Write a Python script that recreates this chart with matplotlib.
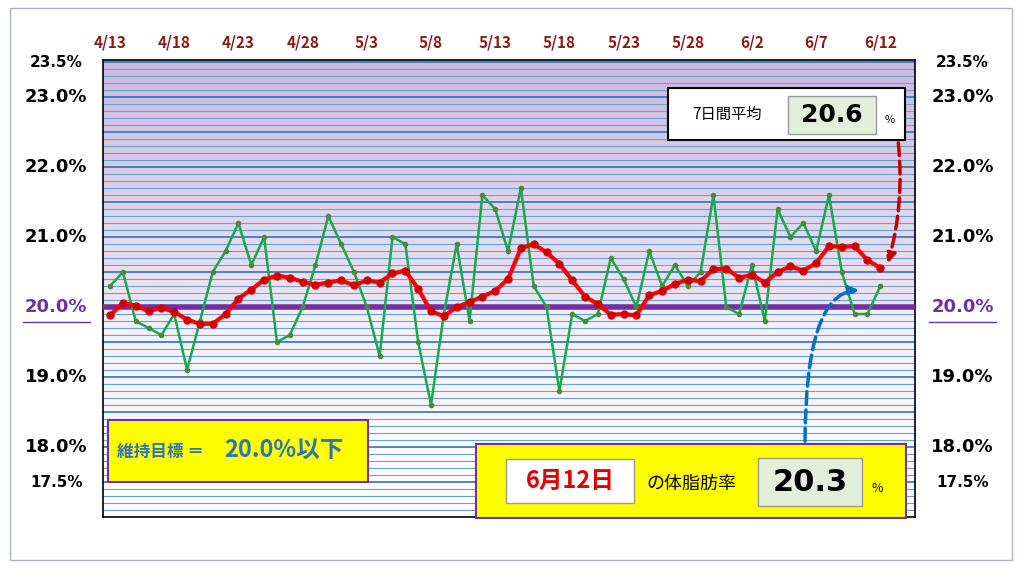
import numpy as np
import matplotlib.pyplot as plt
from matplotlib.patches import Rectangle, FancyArrowPatch
from matplotlib.colors import LinearSegmentedColormap

plt.rcParams['font.family'] = ['Noto Sans CJK JP', 'DejaVu Sans']

# data: 4/13 .. 6/12
daily = [20.3, 20.5, 19.8, 19.7, 19.6, 19.9, 19.1, 19.8, 20.5, 20.8,
         21.2, 20.6, 21.0, 19.5, 19.6, 20.0, 20.6, 21.3, 20.9, 20.5,
         20.0, 19.3, 21.0, 20.9, 19.5, 18.6, 19.9, 20.9, 19.8, 21.6,
         21.4, 20.8, 21.7, 20.3, 20.0, 18.8, 19.9, 19.8, 19.9, 20.7,
         20.4, 20.0, 20.8, 20.3, 20.6, 20.3, 20.5, 21.6, 20.0, 19.9,
         20.6, 19.8, 21.4, 21.0, 21.2, 20.8, 21.6, 20.5, 19.9, 19.9, 20.3]
avg7 = [19.88, 20.06, 20.02, 19.94, 19.99, 19.93, 19.82, 19.76, 19.76, 19.90,
        20.12, 20.25, 20.39, 20.45, 20.42, 20.36, 20.32, 20.35, 20.38, 20.31,
        20.38, 20.35, 20.48, 20.52, 20.26, 19.94, 19.87, 20.00, 20.07, 20.15,
        20.23, 20.40, 20.84, 20.90, 20.78, 20.62, 20.38, 20.15, 20.04, 19.89,
        19.90, 19.88, 20.17, 20.23, 20.33, 20.39, 20.37, 20.54, 20.55, 20.42,
        20.46, 20.35, 20.50, 20.58, 20.52, 20.63, 20.87, 20.86, 20.87, 20.67, 20.56]
date_labels = ['4/13', '4/18', '4/23', '4/28', '5/3', '5/8', '5/13', '5/18',
               '5/23', '5/28', '6/2', '6/7', '6/12']
ytick_vals = [23.5, 23.0, 22.0, 21.0, 20.0, 19.0, 18.0, 17.5]
target = 20.0

days = np.arange(len(daily))
y0, y1 = 17.0, 23.53

fig = plt.figure(figsize=(10.24, 5.69), dpi=100)
fig.patch.set_facecolor('white')
W, H = 1024, 569
ax = fig.add_axes([103 / W, 1 - 517 / H, (915 - 103) / W, (517 - 60) / H])
ax.set_xlim(-0.55, 62.7)
ax.set_ylim(y0, y1)

# background gradients
up = LinearSegmentedColormap.from_list('up', ['#ece6f3', '#c9b9df'])
lo = LinearSegmentedColormap.from_list('lo', ['#ffffff', '#f1eef7'])
g = np.linspace(0, 1, 256).reshape(-1, 1)
ax.imshow(g, cmap=up, origin='lower', aspect='auto', extent=(-0.55, 62.7, target, y1), zorder=0)
ax.imshow(g, cmap=lo, origin='lower', aspect='auto', extent=(-0.55, 62.7, y0, target), zorder=0)

for v in np.arange(17.1, 23.55, 0.1):
    major = abs(v * 2 - round(v * 2)) < 1e-6
    ax.axhline(v, color='#2e75b6' if major else '#6f9fd0', lw=1.2 if major else 0.8, zorder=1)

ax.axhline(target, color='#7030a0', lw=4, zorder=3)
ax.plot(days, daily, color='#1aa84a', lw=1.8, marker='o', ms=3,
        mfc='#4a8a3a', mec='#4a8a3a', zorder=4)
ax.plot(days, avg7, color='#ff0000', lw=3, marker='o', ms=5,
        mfc='#d00000', mec='#d00000', zorder=5)
ax.set_xticks([])
ax.set_yticks([])
for s in ax.spines.values():
    s.set_color('black')
    s.set_linewidth(1.2)

# date labels on top
for i, lab in enumerate(date_labels):
    ax.text(i * 5, y1 + 0.25, lab, ha='center', va='center', color='#8b1a1a',
            fontsize=11, fontweight='bold', clip_on=False)

# y labels on both sides
for v in ytick_vals:
    col = '#7030a0' if v == target else 'black'
    fs = 11 if v in (23.5, 17.5) else 13
    for xx in (-4.2, 66.4):
        ax.text(xx, v, f'{v:.1f}%', ha='center', va='center', color=col,
                fontsize=fs, fontweight='bold', clip_on=False,
                family=['DejaVu Sans'])
        if v == target:
            ax.plot([xx - 2.6, xx + 2.6], [v - 0.22, v - 0.22], color=col, lw=1,
                    clip_on=False)

# overlay in pixel coords
ov = fig.add_axes([0, 0, 1, 1], zorder=10)
ov.set_xlim(0, W)
ov.set_ylim(H, 0)
ov.axis('off')
ov.add_patch(Rectangle((10, 8), 1002, 552, fill=False, ec='#a6b4c8', lw=1))

ov.add_patch(Rectangle((668, 88), 237, 52, fc='white', ec='black', lw=1.5))
ov.text(727, 114, '7日間平均', ha='center', va='center', fontsize=11)
ov.add_patch(Rectangle((788, 96), 88, 38, fc='#e2efda', ec='#999999', lw=1))
ov.text(832, 115, '20.6', ha='center', va='center', fontsize=18, fontweight='bold',
        family=['DejaVu Sans'])
ov.text(890, 120, '%', ha='center', va='center', fontsize=8)

ov.add_patch(Rectangle((108, 420), 260, 62, fc='#ffff00', ec='#7030a0', lw=1.5))
ov.text(117, 452, '維持目標 ＝', ha='left', va='center', fontsize=12,
        fontweight='bold', color='#2e75b6')
ov.text(224, 450, '20.0%以下', ha='left', va='center', fontsize=17,
        fontweight='bold', color='#2e75b6')

ov.add_patch(Rectangle((476, 444), 430, 74, fc='#ffff00', ec='#7030a0', lw=1.5))
ov.add_patch(Rectangle((506, 459), 128, 44, fc='white', ec='#999999', lw=1))
ov.text(570, 481, '6月12日', ha='center', va='center', fontsize=17,
        fontweight='bold', color='#e00000')
ov.text(691, 484, 'の体脂肪率', ha='center', va='center', fontsize=13)
ov.add_patch(Rectangle((758, 458), 104, 48, fc='#e2efda', ec='#999999', lw=1))
ov.text(810, 482, '20.3', ha='center', va='center', fontsize=22, fontweight='bold',
        family=['DejaVu Sans'])
ov.text(877, 488, '%', ha='center', va='center', fontsize=9)

ov.add_patch(FancyArrowPatch((898, 140), (887, 266), connectionstyle='arc3,rad=-0.1',
                             arrowstyle='-|>', mutation_scale=14, color='#c00000',
                             lw=2.5, ls='--'))
ov.add_patch(FancyArrowPatch((805, 444), (862, 290),
                             connectionstyle='angle3,angleA=90,angleB=0',
                             arrowstyle='-|>', mutation_scale=14, color='#0070c0',
                             lw=2.5, ls='--'))

fig.savefig('out.png', dpi=100, facecolor='white')
